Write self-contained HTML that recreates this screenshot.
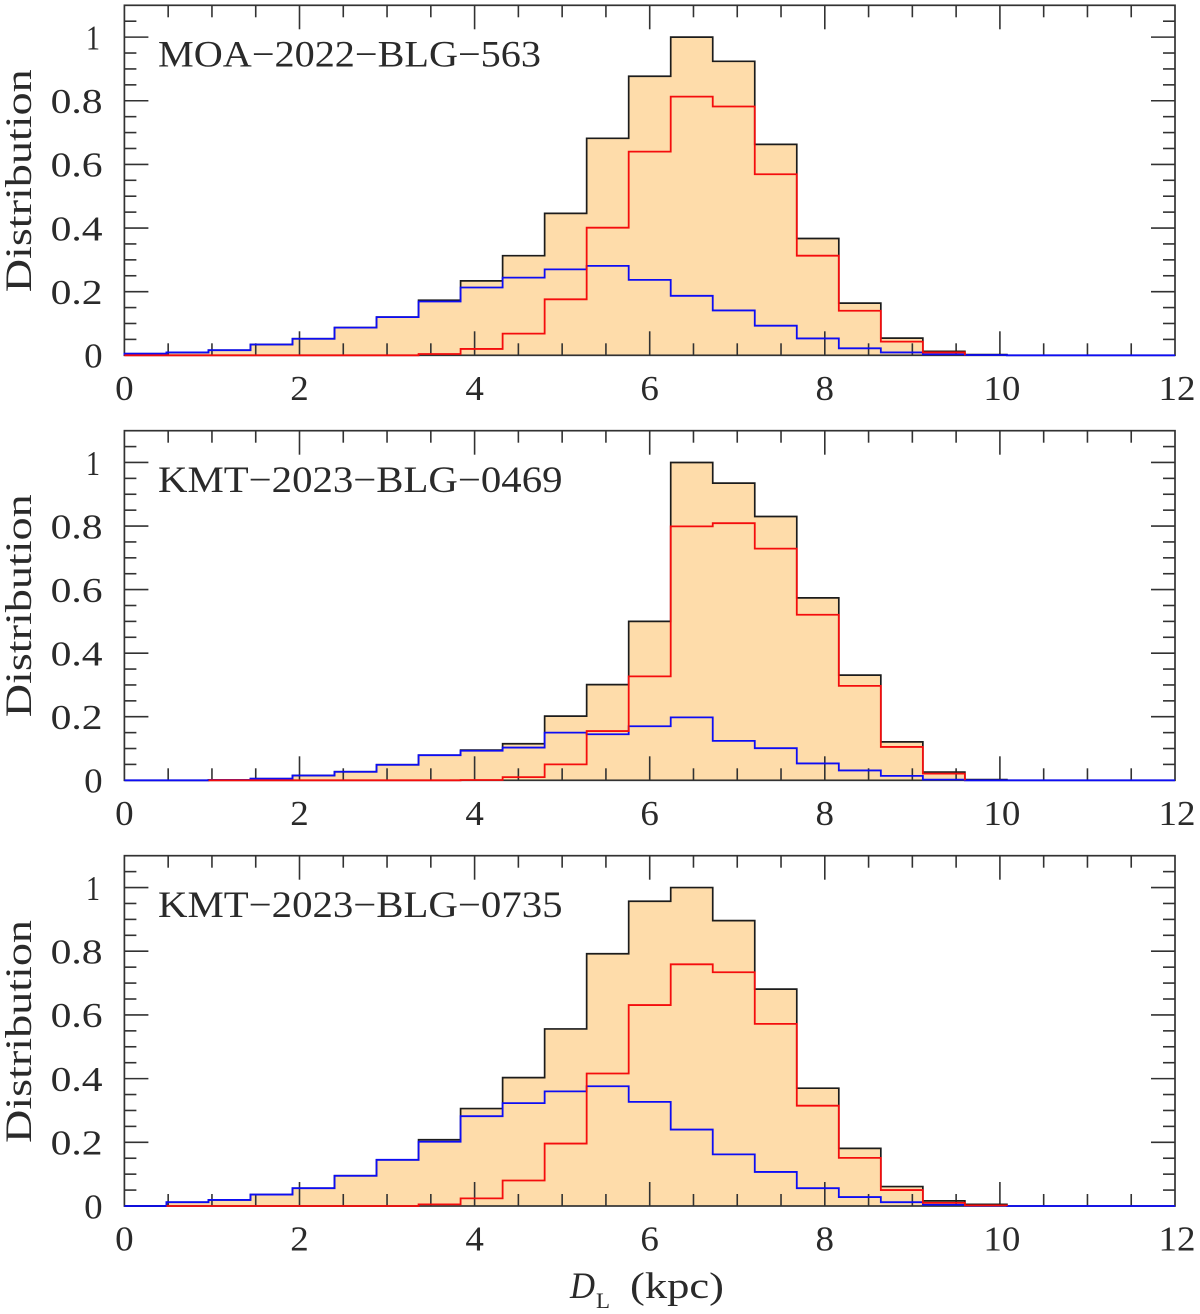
<!DOCTYPE html>
<html lang="en">
<head>
<meta charset="utf-8">
<title>Lens distance distributions</title>
<style>
html,body{margin:0;padding:0;background:#fff;width:1200px;height:1314px;overflow:hidden}
svg{display:block;position:absolute;left:0;top:0}
text{font-family:"Liberation Serif",serif;fill:#2a2a2a}
</style>
</head>
<body>
<svg id="chart" xmlns="http://www.w3.org/2000/svg" width="1200" height="1314" viewBox="0 0 1200 1314">
<defs><filter id="soft" x="0" y="0" width="100%" height="100%" filterUnits="userSpaceOnUse" primitiveUnits="userSpaceOnUse"><feGaussianBlur stdDeviation="0.35"/></filter></defs>
<g id="root" filter="url(#soft)"></g>
</svg>
<script>
const binWidth = 0.48;
const panelNames = ["MOA−2022−BLG−563", "KMT−2023−BLG−0469", "KMT−2023−BLG−0735"];

const totalA = [0.005,0.009,0.016,0.034,0.052,0.087,0.12,0.173,0.234,0.313,0.446,0.682,0.877,1,0.924,0.663,0.367,0.164,0.054,0.0126,0.002,null,null,null,null];
const redA   = [0,0,0,0,0,0,0,0.004,0.02,0.068,0.176,0.401,0.64,0.813,0.782,0.569,0.313,0.14,0.043,0.009,null,null,null,null,null];
const blueA  = [0.005,0.009,0.016,0.034,0.052,0.087,0.12,0.169,0.213,0.244,0.27,0.281,0.237,0.187,0.141,0.093,0.053,0.022,0.009,0.003,0.001,0,0,0,0];

const totalB = [0,0,0.001,0.005,0.015,0.027,0.049,0.079,0.095,0.115,0.202,0.301,0.5,1,0.935,0.83,0.574,0.331,0.121,0.026,0.002,null,null,null,null];
const redB   = [null,null,0,0,0,0,0,0,0.001,0.01,0.05,0.155,0.327,0.799,0.809,0.729,0.521,0.297,0.105,0.021,null,null,null,null,null];
const blueB  = [0,0,0.001,0.005,0.015,0.027,0.049,0.079,0.093,0.103,0.15,0.145,0.17,0.198,0.124,0.101,0.053,0.031,0.014,0.002,0,0,0,0,0];

const totalC = [0,0.012,0.019,0.036,0.056,0.095,0.145,0.208,0.306,0.403,0.556,0.792,0.957,1,0.896,0.681,0.37,0.181,0.061,0.016,0.005,null,null,null,null];
const redC   = [null,0,0,0,0,0,0,0.005,0.024,0.08,0.196,0.416,0.631,0.759,0.734,0.572,0.315,0.151,0.05,0.01,0.002,null,null,null,null];
const blueC  = [0,0.012,0.019,0.036,0.056,0.095,0.145,0.202,0.282,0.323,0.36,0.376,0.327,0.24,0.162,0.107,0.056,0.028,0.012,0.004,0.001,0,0,0,0];

const xTickLabels = ["0","2","4","6","8","10","12"];
const yTickLabels = ["0","0.2","0.4","0.6","0.8","1"];

const totals = [totalA, totalB, totalC];
const reds = [redA, redB, redC];
const blues = [blueA, blueB, blueC];

const NS = "http://www.w3.org/2000/svg";
const root = document.getElementById("root");
const plotLeft = 124.4, plotRight = 1175;
const plotBottoms = [355.3, 780.3, 1206];
const plotTops = [5.3, 430.7, 855.7];
const xMax = 12, yMax = 1.1;
const axisColor = "#333";

function xPos(v){ return plotLeft + v / xMax * (plotRight - plotLeft); }
function yPos(v, p){ return plotBottoms[p] - v / yMax * (plotBottoms[p] - plotTops[p]); }
function make(tag, attrs, parent){
  const n = document.createElementNS(NS, tag);
  for (const k in attrs) n.setAttribute(k, attrs[k]);
  (parent || root).appendChild(n);
  return n;
}
function stepPath(vals, p, close){
  let d = "", first = -1, last = -1;
  vals.forEach(function(v, i){
    if (v === null) return;
    if (first < 0) { first = i; d += "M" + xPos(i * binWidth).toFixed(2) + " " + yPos(0, p).toFixed(2); }
    d += "L" + xPos(i * binWidth).toFixed(2) + " " + yPos(v, p).toFixed(2);
    d += "L" + xPos((i + 1) * binWidth).toFixed(2) + " " + yPos(v, p).toFixed(2);
    last = i;
  });
  d += "L" + xPos((last + 1) * binWidth).toFixed(2) + " " + yPos(0, p).toFixed(2);
  if (close) d += "Z";
  return d;
}

panelNames.forEach(function(name, p){
  const g = make("g", {});
  
  

  const fill = make("path", {d: stepPath(totals[p], p, true), fill: "#fedcaa", stroke: "none"}, g);
  
  

  const ticks = make("g", {stroke: axisColor, "stroke-width": 1.6, fill: "none"}, g);
  
  
  const top = plotTops[p], bot = plotBottoms[p];
  for (let k = 0; k <= 24; k++) {
    const v = k * 0.5, len = (k % 4 === 0) ? 24 : 12, x = xPos(v);
    if (k === 0 || k === 24) continue;
    const t1 = make("line", {x1: x, x2: x, y1: bot, y2: bot - len}, ticks);
    
    
    const t2 = make("line", {x1: x, x2: x, y1: top, y2: top + len}, ticks);
    
    
  }
  for (let k = 1; k <= 21; k++) {
    const v = k * 0.05, len = (k % 4 === 0) ? 24 : 12, y = yPos(v, p);
    const t1 = make("line", {x1: plotLeft, x2: plotLeft + len, y1: y, y2: y}, ticks);
    
    
    const t2 = make("line", {x1: plotRight, x2: plotRight - len, y1: y, y2: y}, ticks);
    
    
  }

  const frame = make("rect", {x: plotLeft, y: top, width: plotRight - plotLeft, height: bot - top, fill: "none", stroke: axisColor, "stroke-width": 1.7}, g);
  
  

  const blackLine = make("path", {d: stepPath(totals[p], p, false), fill: "none", stroke: "#1c1c1c", "stroke-width": 1.7}, g);
  
  
  const blueLine = make("path", {d: stepPath(blues[p], p, false), fill: "none", stroke: "#0c0cf4", "stroke-width": 1.8}, g);
  
  
  const redLine = make("path", {d: stepPath(reds[p], p, false), fill: "none", stroke: "#f40c0c", "stroke-width": 1.8}, g);
  
  

  xTickLabels.forEach(function(lab){
    const t = make("text", {x: xPos(+lab) + (lab.length > 1 ? 2 : 0), y: bot + 44.5, "text-anchor": "middle", "font-size": 35, textLength: lab.length * 18.5, lengthAdjust: "spacingAndGlyphs"}, g);
    t.textContent = lab;
    
    
  });
  yTickLabels.forEach(function(lab){
    const w = lab.length > 1 ? 52 : (lab === "1" ? 14 : 18.5);
    const right = lab === "1" ? 100 : 102.6;
    const t = make("text", {x: right - w, y: yPos(+lab, p) + 12.3, "font-size": 35, textLength: w, lengthAdjust: "spacingAndGlyphs"}, g);
    t.textContent = lab;
    
    
  });

  const cy = bot - 174.5;
  const yt = make("text", {x: 31, y: cy, "font-size": 37, "text-anchor": "middle", textLength: 223, lengthAdjust: "spacingAndGlyphs", transform: "rotate(-90 31 " + cy + ")"}, g);
  yt.textContent = "Distribution";
  
  

  const lbl = make("text", {x: 158, y: top + 61.4, "font-size": 37, textLength: p === 0 ? 383 : 404.5, lengthAdjust: "spacingAndGlyphs"}, g);
  lbl.textContent = name;
  
  
});

const xtD = make("text", {x: 570, y: 1298, "font-size": 37, "font-style": "italic", textLength: 25, lengthAdjust: "spacingAndGlyphs"});
xtD.textContent = "D";


const xtL = make("text", {x: 596, y: 1308, "font-size": 22, textLength: 14, lengthAdjust: "spacingAndGlyphs"});
xtL.textContent = "L";


const xtU = make("text", {x: 630, y: 1298, "font-size": 37, textLength: 94, lengthAdjust: "spacingAndGlyphs"});
xtU.textContent = "(kpc)";


</script>
</body>
</html>
